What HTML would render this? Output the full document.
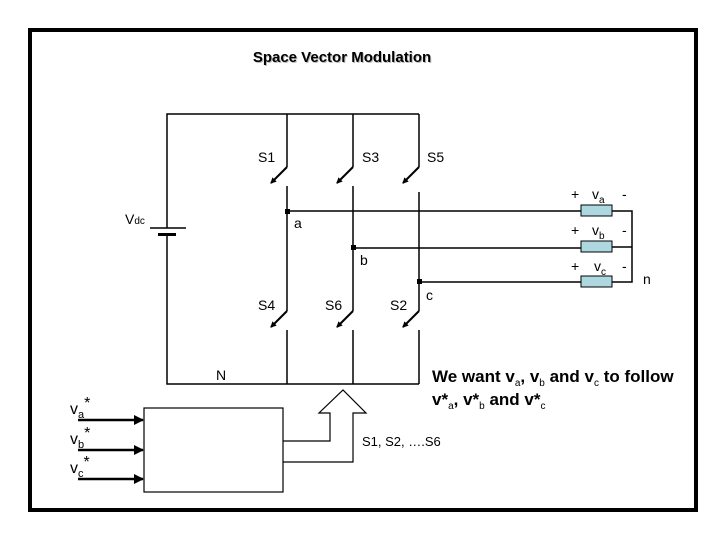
<!DOCTYPE html>
<html><head><style>
body{margin:0;background:#fff}
svg{display:block}
text{font-family:"Liberation Sans",Arial,sans-serif;fill:#000}
</style></head><body>
<svg width="720" height="540" viewBox="0 0 720 540">
<rect x="30" y="30" width="666" height="480" fill="none" stroke="#000" stroke-width="4"/>
<text x="343" y="63" font-size="15" font-weight="bold" text-anchor="middle" style="fill:#bbb">Space Vector Modulation</text>
<text x="342" y="62" font-size="15" font-weight="bold" text-anchor="middle">Space Vector Modulation</text>
<defs><marker id="ah" markerWidth="6" markerHeight="6" refX="5" refY="3" orient="auto" markerUnits="userSpaceOnUse"><path d="M0,0 L6,3 L0,6z"/></marker>
<marker id="ah2" markerWidth="10" markerHeight="10" refX="9" refY="5" orient="auto" markerUnits="userSpaceOnUse"><path d="M0,0 L10,5 L0,10z"/></marker></defs>
<g stroke="#000" stroke-width="1.5" fill="none">
<path d="M167,228 V114 H419"/>
<path d="M167,234 V384 H419"/>
<path d="M150,228 H186"/>
<path d="M158,234.5 H176" stroke-width="3"/>
<path d="M287,114 V167 M287,186 V311 M287,330 V384"/>
<path d="M353,114 V167 M353,186 V311 M353,330 V384"/>
<path d="M419,114 V167 M419,192 V311 M419,330 V384"/>
</g>
<g stroke="#000" stroke-width="2" fill="#000">
<path d="M287,167 L271,183" marker-end="url(#ah)"/>
<path d="M353,167 L337,183" marker-end="url(#ah)"/>
<path d="M419,167 L403,183" marker-end="url(#ah)"/>
<path d="M287,311 L271,327" marker-end="url(#ah)"/>
<path d="M353,311 L337,327" marker-end="url(#ah)"/>
<path d="M419,311 L403,327" marker-end="url(#ah)"/>
</g>
<g stroke="#000" stroke-width="1.5" fill="none">
<path d="M287,211 H581 M353,248 H581 M419,282 H581"/>
<path d="M612,211 H632 V282 H612 M612,247 H632"/>
</g>
<rect x="285" y="209" width="5" height="5"/><rect x="351" y="245" width="5" height="5"/><rect x="417" y="279" width="5" height="5"/>
<g fill="#add8df" stroke="#000" stroke-width="1">
<rect x="581" y="205" width="31" height="11"/>
<rect x="581" y="241" width="31" height="11"/>
<rect x="581" y="276" width="31" height="11"/>
</g>
<g font-size="14">
<text x="258" y="162">S1</text><text x="362" y="162">S3</text><text x="427" y="162">S5</text>
<text x="258" y="310">S4</text><text x="325" y="310">S6</text><text x="390" y="310">S2</text>
<text x="294" y="228">a</text><text x="360" y="265">b</text><text x="426" y="300">c</text>
<text x="125" y="224">V<tspan font-size="10">dc</tspan></text>
<text x="216" y="380">N</text>
<text x="643" y="284">n</text>
<text x="571" y="199">+</text><text x="592" y="199">v<tspan font-size="10" dy="4">a</tspan></text><text x="622" y="199">-</text>
<text x="571" y="235">+</text><text x="592" y="235">v<tspan font-size="10" dy="4">b</tspan></text><text x="622" y="235">-</text>
<text x="571" y="271">+</text><text x="594" y="271">v<tspan font-size="10" dy="4">c</tspan></text><text x="622" y="271">-</text>
<text x="362" y="446" font-size="13">S1, S2, ….S6</text>
</g>
<g font-size="17" font-weight="bold">
<text x="432" y="382">We want v<tspan font-size="10" font-weight="normal" dy="4">a</tspan><tspan dy="-4">, v</tspan><tspan font-size="10" font-weight="normal" dy="4">b</tspan><tspan dy="-4"> and v</tspan><tspan font-size="10" font-weight="normal" dy="4">c</tspan><tspan dy="-4"> to follow</tspan></text>
<text x="432" y="405">v*<tspan font-size="10" font-weight="normal" dy="4">a</tspan><tspan dy="-4">, v*</tspan><tspan font-size="10" font-weight="normal" dy="4">b</tspan><tspan dy="-4"> and v*</tspan><tspan font-size="10" font-weight="normal" dy="4">c</tspan></text>
</g>
<g font-size="16">
<text x="70" y="414">v<tspan font-size="11" dy="4">a</tspan><tspan dy="-10">*</tspan></text>
<text x="70" y="444">v<tspan font-size="11" dy="4">b</tspan><tspan dy="-10">*</tspan></text>
<text x="70" y="473">v<tspan font-size="11" dy="4">c</tspan><tspan dy="-10">*</tspan></text>
</g>
<rect x="144" y="408" width="139" height="84" fill="none" stroke="#000" stroke-width="1.2"/>
<g stroke="#000" stroke-width="2.5">
<path d="M78,420 H143" marker-end="url(#ah2)"/>
<path d="M78,450 H143" marker-end="url(#ah2)"/>
<path d="M78,479 H143" marker-end="url(#ah2)"/>
</g>
<path d="M283,441 H330 V413 H319 L343,390 L366,413 H353 V462 H283" fill="none" stroke="#000" stroke-width="1.2"/>
</svg>
</body></html>
